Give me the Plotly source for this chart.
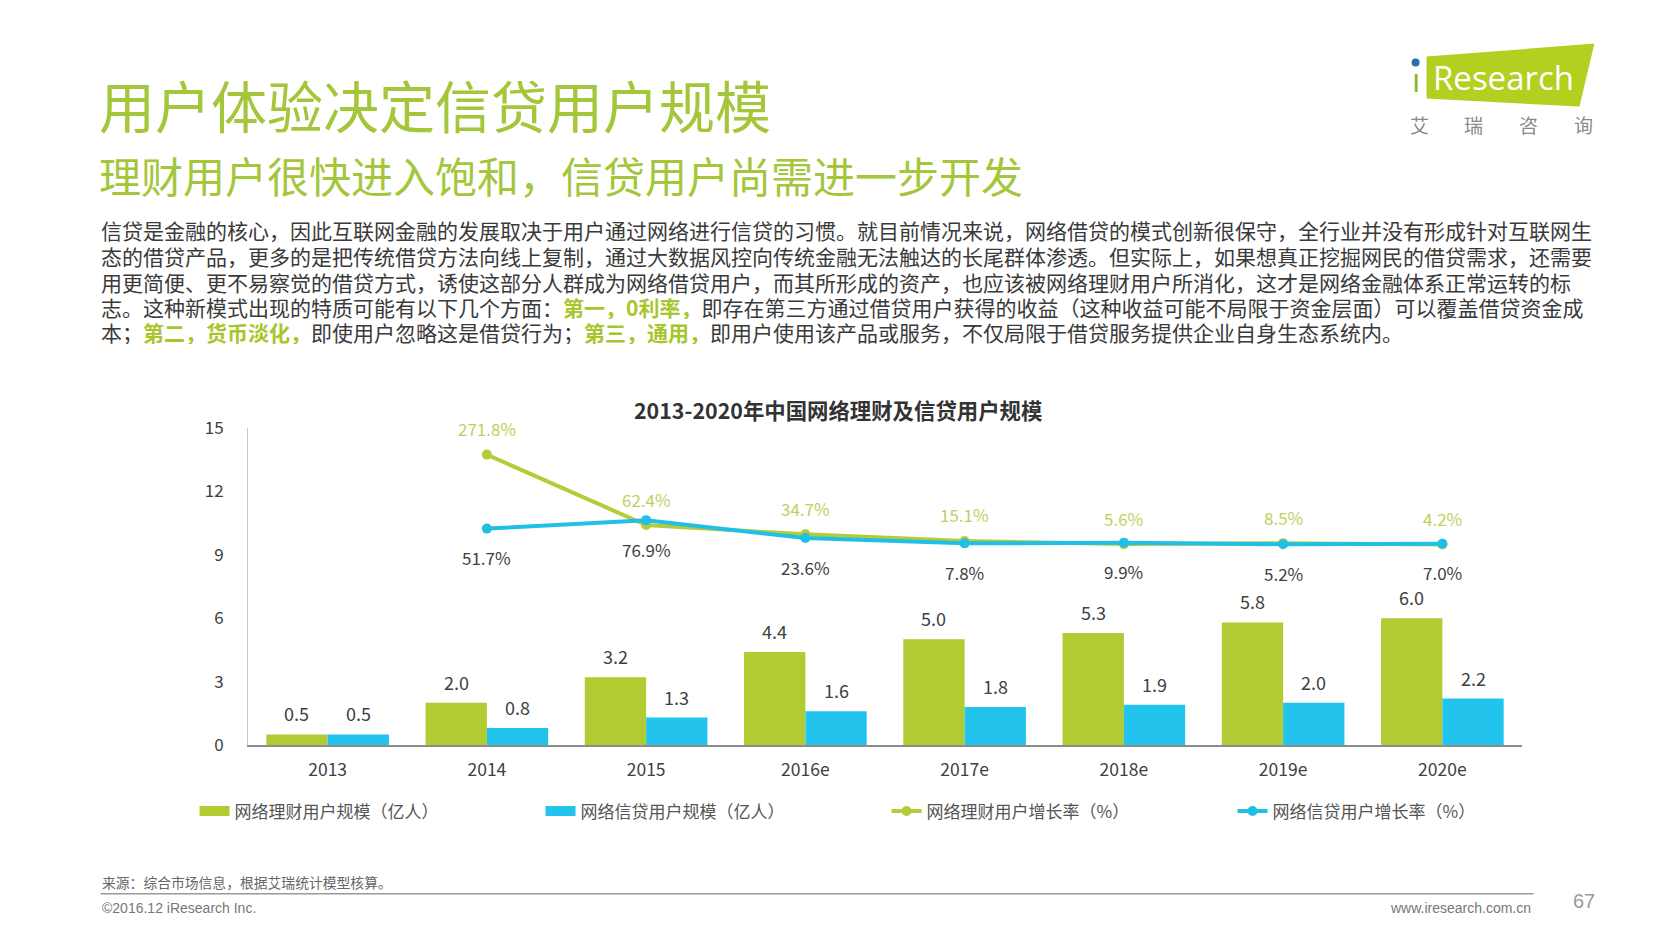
import plotly.graph_objects as go

# ---------------- data ----------------
categories = ["2013", "2014", "2015", "2016e", "2017e", "2018e", "2019e", "2020e"]
wealth_users = [0.5, 2.0, 3.2, 4.4, 5.0, 5.3, 5.8, 6.0]      # 网络理财用户规模(亿人)
credit_users = [0.5, 0.8, 1.3, 1.6, 1.8, 1.9, 2.0, 2.2]      # 网络信贷用户规模(亿人)
wealth_growth = [None, 271.8, 62.4, 34.7, 15.1, 5.6, 8.5, 4.2]  # 网络理财用户增长率(%)
credit_growth = [None, 51.7, 76.9, 23.6, 7.8, 9.9, 5.2, 7.0]    # 网络信贷用户增长率(%)
y_ticks = [0, 3, 6, 9, 12, 15]

series_names = ["网络理财用户规模（亿人）", "网络信贷用户规模（亿人）",
                "网络理财用户增长率（%）", "网络信贷用户增长率（%）"]

title_main = "用户体验决定信贷用户规模"
title_sub = "理财用户很快进入饱和，信贷用户尚需进一步开发"
chart_title = "2013-2020年中国网络理财及信贷用户规模"

G = "#a3c63a"
HL = '<b><span style="color:#a6c62c">{}</span></b>'
para_lines = [
    "信贷是金融的核心，因此互联网金融的发展取决于用户通过网络进行信贷的习惯。就目前情况来说，网络借贷的模式创新很保守，全行业并没有形成针对互联网生",
    "态的借贷产品，更多的是把传统借贷方法向线上复制，通过大数据风控向传统金融无法触达的长尾群体渗透。但实际上，如果想真正挖掘网民的借贷需求，还需要",
    "用更简便、更不易察觉的借贷方式，诱使这部分人群成为网络借贷用户，而其所形成的资产，也应该被网络理财用户所消化，这才是网络金融体系正常运转的标",
    "志。这种新模式出现的特质可能有以下几个方面：" + HL.format("第一，0利率，") + "即存在第三方通过借贷用户获得的收益（这种收益可能不局限于资金层面）可以覆盖借贷资金成",
    "本；" + HL.format("第二，货币淡化，") + "即使用户忽略这是借贷行为；" + HL.format("第三，通用，") + "即用户使用该产品或服务，不仅局限于借贷服务提供企业自身生态系统内。",
]

source_text = "来源：综合市场信息，根据艾瑞统计模型核算。"
copyright_text = "©2016.12 iResearch Inc."
site_text = "www.iresearch.com.cn"
page_no = "67"

# ---------------- layout helpers (screen coordinates) ----------------
OFF = 8                      # page body margin
FW, FH = 1664, 929
L, R, T, B = 247.5, 1522.5, 427.5, 744.6
CJK = "Noto Sans CJK SC"


def px(x):
    return (x - L) / (R - L)


def py(y):
    return (B - y) / (B - T)


GREEN_BAR = "#b1cb32"
BLUE_BAR = "#22c4ee"
GREEN_LINE = "#b5cc3a"
BLUE_LINE = "#1fbfe8"

fig = go.Figure()
fig.add_trace(go.Bar(x=categories, y=wealth_users, name=series_names[0], showlegend=False,
                     marker=dict(color=GREEN_BAR, line=dict(width=0))))
fig.add_trace(go.Bar(x=categories, y=credit_users, name=series_names[1], showlegend=False,
                     marker=dict(color=BLUE_BAR, line=dict(width=0))))
# legend entries for the bars (wide rectangle keys, as in the original)
fig.add_trace(go.Scatter(x=[None], y=[None], name=series_names[0], mode="lines",
                         line=dict(color=GREEN_BAR, width=12), hoverinfo="skip"))
fig.add_trace(go.Scatter(x=[None], y=[None], name=series_names[1], mode="lines",
                         line=dict(color=BLUE_BAR, width=12), hoverinfo="skip"))
fig.add_trace(go.Scatter(x=categories, y=wealth_growth, name=series_names[2], yaxis="y2",
                         mode="lines+markers", line=dict(color=GREEN_LINE, width=4),
                         marker=dict(color=GREEN_LINE, size=10)))
fig.add_trace(go.Scatter(x=categories, y=credit_growth, name=series_names[3], yaxis="y2",
                         mode="lines+markers", line=dict(color=BLUE_LINE, width=4),
                         marker=dict(color=BLUE_LINE, size=10)))

annotations = []
bar_shift = 30.7
for i, v in enumerate(wealth_users):
    annotations.append(dict(x=i, y=v, xref="x", yref="y", text=f"{v:.1f}", showarrow=False,
                            xshift=-bar_shift, yshift=21, yanchor="middle",
                            font=dict(family=CJK, size=18, color="#404040")))
for i, v in enumerate(credit_users):
    annotations.append(dict(x=i, y=v, xref="x", yref="y", text=f"{v:.1f}", showarrow=False,
                            xshift=bar_shift, yshift=21, yanchor="middle",
                            font=dict(family=CJK, size=18, color="#404040")))
for i, v in enumerate(wealth_growth):
    if v is None:
        continue
    annotations.append(dict(x=i, y=v, xref="x", yref="y2", text=f"{v:.1f}%", showarrow=False,
                            yshift=26, yanchor="middle",
                            font=dict(family=CJK, size=17, color="#bfd05c")))
for i, v in enumerate(credit_growth):
    if v is None:
        continue
    annotations.append(dict(x=i, y=v, xref="x", yref="y2", text=f"{v:.1f}%", showarrow=False,
                            yshift=-29, yanchor="middle",
                            font=dict(family=CJK, size=17, color="#404040")))

# titles
annotations.append(dict(x=px(96), y=py(103), xref="paper", yref="paper", text=title_main,
                        showarrow=False, xanchor="left", yanchor="middle",
                        font=dict(family=CJK, size=56, color=G)))
annotations.append(dict(x=px(96), y=py(174), xref="paper", yref="paper", text=title_sub,
                        showarrow=False, xanchor="left", yanchor="middle",
                        font=dict(family=CJK, size=42, color=G)))
para_y = [229.4, 255.1, 280.9, 305.5, 331.2]
for line, yy in zip(para_lines, para_y):
    annotations.append(dict(x=px(98), y=py(yy), xref="paper", yref="paper", text=line,
                            showarrow=False, xanchor="left", yanchor="middle", height=25,
                            font=dict(family=CJK, size=21, color="#3a3a3a")))
annotations.append(dict(x=px(838), y=py(409), xref="paper", yref="paper",
                        text=f"<b>{chart_title}</b>", showarrow=False,
                        xanchor="center", yanchor="middle",
                        font=dict(family=CJK, size=21.4, color="#333333")))

# footer
annotations.append(dict(x=px(99), y=py(882), xref="paper", yref="paper", text=source_text,
                        showarrow=False, xanchor="left", yanchor="middle",
                        font=dict(family=CJK, size=13.8, color="#666666")))
annotations.append(dict(x=px(99), y=py(908), xref="paper", yref="paper", text=copyright_text,
                        showarrow=False, xanchor="left", yanchor="middle",
                        font=dict(family="Liberation Sans", size=14, color="#777777")))
annotations.append(dict(x=px(1534), y=py(908), xref="paper", yref="paper", text=site_text,
                        showarrow=False, xanchor="right", yanchor="middle",
                        font=dict(family="Liberation Sans", size=14, color="#777777")))
annotations.append(dict(x=px(1585), y=py(901), xref="paper", yref="paper", text=page_no,
                        showarrow=False, xanchor="center", yanchor="middle",
                        font=dict(family="Liberation Sans", size=20, color="#999999")))

# logo
annotations.append(dict(x=px(1431), y=py(77), xref="paper", yref="paper", text="Research",
                        showarrow=False, xanchor="left", yanchor="middle",
                        font=dict(family="Open Sans", size=33, color="white")))
annotations.append(dict(x=px(1416), y=py(79), xref="paper", yref="paper", text="ı",
                        showarrow=False, xanchor="center", yanchor="middle",
                        font=dict(family="Open Sans", size=33, color="#8db52c")))
for ch, xx in zip("艾瑞咨询", [1420, 1474, 1529, 1584]):
    annotations.append(dict(x=px(xx), y=py(124), xref="paper", yref="paper", text=ch,
                            showarrow=False, xanchor="center", yanchor="middle",
                            font=dict(family=CJK, size=19, color="#8a8a8a")))

shapes = [
    dict(type="path", xref="paper", yref="paper",
         path=f"M {px(1427)},{py(56)} L {px(1595)},{py(43)} L {px(1580)},{py(106)} L {px(1427)},{py(98)} Z",
         fillcolor="#b3cf1f", line=dict(width=0), layer="below"),
    dict(type="circle", xref="paper", yref="paper",
         x0=px(1412), x1=px(1420), y0=py(58), y1=py(66),
         fillcolor="#2a6db5", line=dict(width=0)),
    dict(type="line", xref="paper", yref="paper", x0=px(100), x1=px(1534),
         y0=py(893.5), y1=py(893.5), line=dict(color="#9a9a9a", width=1.5)),
]

fig.update_layout(
    width=FW, height=FH,
    margin=dict(l=L - OFF, r=FW - (R - OFF), t=T - OFF, b=FH - (B - OFF), pad=0),
    paper_bgcolor="white", plot_bgcolor="white",
    barmode="group", bargap=0.23, bargroupgap=0,
    showlegend=True,
    legend=dict(orientation="h", x=px(194), y=py(811), xanchor="left", yanchor="middle",
                entrywidth=301, entrywidthmode="pixels", traceorder="normal",
                font=dict(family=CJK, size=17, color="#555555"),
                itemclick=False, itemdoubleclick=False),
    xaxis=dict(type="category", categoryorder="array", categoryarray=categories,
               range=[-0.5, len(categories) - 0.5], autorange=False,
               showgrid=False, showline=True, linecolor="#8c8c8c", linewidth=1.5,
               ticks="", tickfont=dict(family=CJK, size=17.5, color="#404040"),
               ticklabelstandoff=8, zeroline=False),
    yaxis=dict(range=[0, 15], tickvals=y_ticks, showgrid=False, showline=True,
               linecolor="#c8c8c8", linewidth=1, ticks="", zeroline=False,
               tickfont=dict(family=CJK, size=17, color="#404040"), ticklabelstandoff=20),
    yaxis2=dict(overlaying="y", range=[-592, 351], visible=False, showgrid=False, zeroline=False),
    annotations=annotations,
    shapes=shapes,
    font=dict(family=CJK),
)

fig.write_html("out.html")
